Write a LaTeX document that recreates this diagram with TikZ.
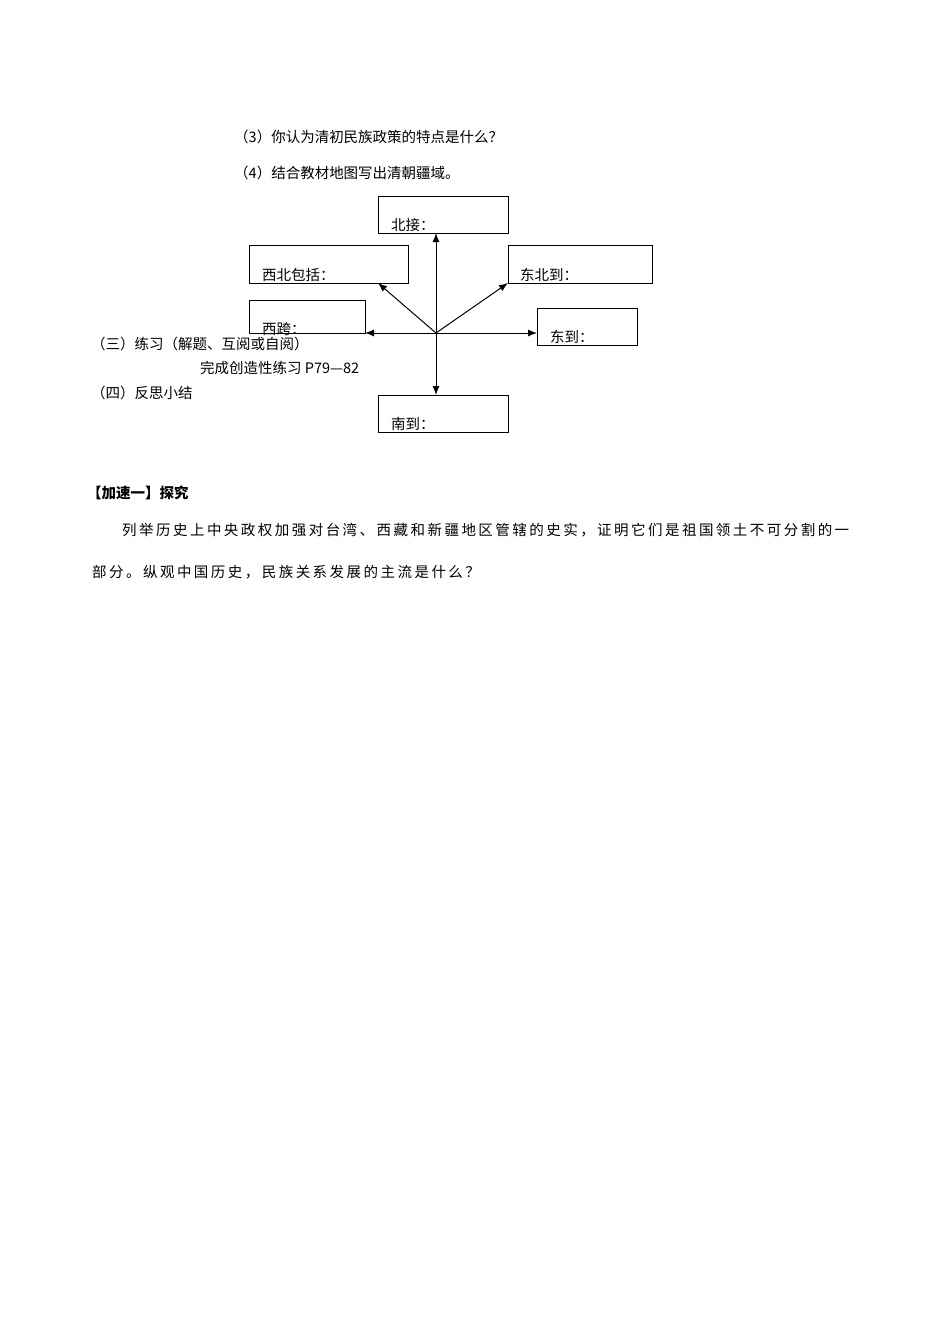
\documentclass[tikz,border=0pt]{standalone}
\usepackage{fontspec}
\setmainfont{Noto Sans CJK SC}
\usetikzlibrary{arrows.meta}
\begin{document}
\begin{tikzpicture}[x=1pt,y=-1pt,font=\fontsize{14.5}{16}\selectfont,
  box/.style={draw,line width=0.9pt,inner sep=0},
  lab/.style={anchor=base west,inner sep=0},
  txt/.style={anchor=base west,inner sep=0},
  arr/.style={-{Latex[length=9pt,width=7pt]},line width=1pt}]
\useasboundingbox (0,0) rectangle (950,1344);
\fill[white] (0,0) rectangle (950,1344);
\node[txt] (t3) at (234,142) {（3）你认为清初民族政策的特点是什么？};
\node[txt] (t4) at (234,178) {（4）结合教材地图写出清朝疆域。};
\draw[box] (378,196) rectangle (508,233);
\draw[box] (249,245) rectangle (408,283);
\draw[box] (508,245) rectangle (652,283);
\draw[box] (249,300) rectangle (365,333);
\draw[box] (537,308) rectangle (637,345);
\draw[box] (378,395) rectangle (508,432);
\coordinate (n) at (436,233); \coordinate (s) at (436,395);
\coordinate (w) at (365,333); \coordinate (e) at (537,333);
\coordinate (nw) at (378,283); \coordinate (ne) at (508,283);
\coordinate (c) at (436,333);
\foreach \p in {n,s,w,e,nw,ne} \draw[arr] (c) -- (\p);
\node[lab] (ln) at (391,230) {北接：};
\node[lab] (lnw) at (262,280) {西北包括：};
\node[lab] (lne) at (520,280) {东北到：};
\node[lab] (lw) at (262,334) {西跨：};
\node[lab] (le) at (550,342) {东到：};
\node[lab] (ls) at (391,429) {南到：};
\node[txt] (p3) at (91,349) {（三）练习（解题、互阅或自阅）};
\node[txt] (p3b) at (200,373) {完成创造性练习 P79—82};
\node[txt] (p4) at (91,398) {（四）反思小结};
\node[txt] (h) at (87,498) {\textbf{【加速一】探究}};
\node[txt] (l1) at (122,535) {\addfontfeature{LetterSpace=17}列举历史上中央政权加强对台湾、西藏和新疆地区管辖的史实，证明它们是祖国领土不可分割的一};
\node[txt] (l2) at (92,577) {\addfontfeature{LetterSpace=17}部分。纵观中国历史，民族关系发展的主流是什么？};
\end{tikzpicture}
\end{document}
